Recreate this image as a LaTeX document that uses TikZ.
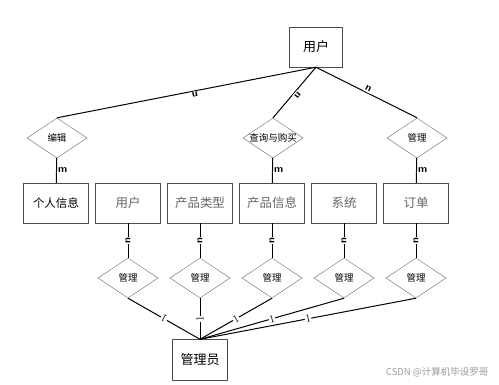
\documentclass[tikz,border=0pt]{standalone}
\usepackage{fontspec}
\usepackage{tikz}
\usetikzlibrary{shapes.geometric,positioning}
\newfontfamily\cjk{Noto Sans CJK SC}

\begin{document}
\begin{tikzpicture}[
    x=1pt, y=-1pt,
    node distance=72pt,
    entity/.style={draw=black!70, thin, minimum width=65pt, minimum height=40pt, font=\cjk\fontsize{11.5}{12}\selectfont},
    faded/.style={entity, text=black!60, font=\cjk\fontsize{12.5}{13}\selectfont},
    relation/.style={diamond, draw=black!60, thin, minimum width=60pt, minimum height=40pt, inner sep=0pt, font=\cjk\fontsize{9.5}{10}\selectfont},
    card/.style={font=\sffamily\bfseries\fontsize{10.5}{10}\selectfont, fill=white, inner sep=1pt},
    one/.style={font=\fontsize{11}{11}\selectfont, fill=white, inner sep=0.5pt, sloped, allow upside down},
    link/.style={line width=1pt} % connector lines
]
\useasboundingbox (0,0) rectangle (499,384);

% Entities
\node[entity, minimum width=53pt, font=\cjk\fontsize{13}{13}\selectfont] (user) at (316,47) {用户};
\node[entity] (info) at (56,203) {个人信息};
\node[faded] (usr) [right of=info] {用户};
\node[faded] (type) [right of=usr] {产品类型};
\node[faded] (prod) [right of=type] {产品信息};
\node[faded] (sys) [right of=prod] {系统};
\node[faded] (order) [right of=sys] {订单};
\node[entity, minimum width=55pt, minimum height=41pt, font=\cjk\fontsize{13}{13}\selectfont] (admin) at (200,360) {管理员};

% Relations
\node[relation] (edit) at (57,138) {编辑};
\node[relation] (buy) at (273,138) {\makebox[0pt]{查询与购买}};
\node[relation] (manage) at (417,138) {管理};
\node[relation, below of=usr, node distance=75pt] (m1) {管理};
\node[relation, below of=type, node distance=75pt] (m2) {管理};
\node[relation, below of=prod, node distance=75pt] (m3) {管理};
\node[relation, below of=sys, node distance=75pt] (m4) {管理};
\node[relation, below of=order, node distance=75pt] (m5) {管理};

% Edges user side
\draw[link] (user.south) -- node[card, sloped, allow upside down, above, pos=0.47] {n} (edit.north);
\draw[link] (user.south) -- node[card, sloped, allow upside down, above, pos=0.5] {n} (buy.north);
\draw[link] (user.south) -- node[card, sloped, allow upside down, above, pos=0.5] {n} (manage.north);
\draw[link] (edit) -- node[card, right, fill=none] {m} (info);
\draw[link] (buy) -- node[card, right, fill=none] {m} (prod);
\draw[link] (manage) -- node[card, right, fill=none] {m} (order);

% Edges admin side
\draw[link] (m1) -- node[card, sloped, allow upside down] {n} (usr);
\draw[link] (m2) -- node[card, sloped, allow upside down] {n} (type);
\draw[link] (m3) -- node[card, sloped, allow upside down] {n} (prod);
\draw[link] (m4) -- node[card, sloped, allow upside down] {n} (sys);
\draw[link] (m5) -- node[card, sloped, allow upside down] {n} (order);
\draw[link] (admin.north) -- node[one] {1} (m1.south);
\draw[link] (admin.north) -- node[one] {1} (m2.south);
\draw[link] (admin.north) -- node[one] {1} (m3.south);
\draw[link] (admin.north) -- node[one] {1} (m4.south);
\draw[link] (admin.north) -- node[one] {1} (m5.south);

% Watermark
\node[font=\cjk\fontsize{9.5}{10}\selectfont, text=black!40, anchor=east] (mark) at (492,372) {CSDN @计算机毕设罗哥};

\end{tikzpicture}
\end{document}
